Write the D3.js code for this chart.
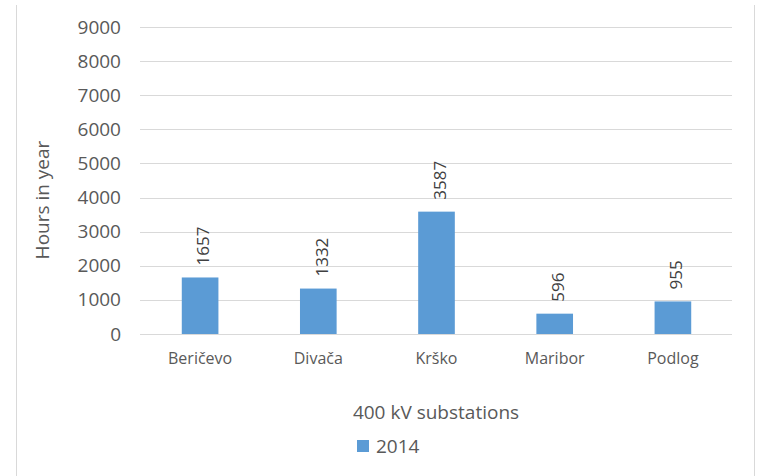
<!DOCTYPE html>
<html>
<head>
<meta charset="utf-8">
<script src="https://cdn.jsdelivr.net/npm/d3@7"></script>
<style>
  html, body { margin: 0; padding: 0; background: #ffffff; }
  svg { display: block; font-family: "Open Sans", sans-serif; }
</style>
</head>
<body>
<svg id="chart" width="762" height="476"></svg>
<script>
const categories = ["Beričevo", "Divača", "Krško", "Maribor", "Podlog"];
const values2014 = [1657, 1332, 3587, 596, 955];
const yTicks = [0, 1000, 2000, 3000, 4000, 5000, 6000, 7000, 8000, 9000];
const seriesName = "2014";
const xTitle = "400 kV substations";
const yTitle = "Hours in year";

const svg = d3.select("#chart");
const W = 762, H = 476;
const plot = { left: 141, right: 732, top: 27, bottom: 334 };
const textColor = "#595959";
const gridColor = "#d9d9d9";
const barColor = "#5b9bd5";

svg.append("rect").attr("width", W).attr("height", H).attr("fill", "#fff");

// frame side lines
svg.append("line").attr("x1", 16.5).attr("x2", 16.5).attr("y1", 5).attr("y2", H)
  .attr("stroke", gridColor).attr("stroke-width", 1);
svg.append("line").attr("x1", 754.5).attr("x2", 754.5).attr("y1", 5).attr("y2", H)
  .attr("stroke", gridColor).attr("stroke-width", 1);

const x = d3.scaleBand().domain(categories).range([plot.left, plot.right]).padding(0);
const y = d3.scaleLinear().domain([0, 9000]).range([plot.bottom, plot.top]);

// gridlines
svg.append("g").selectAll("line").data(yTicks).join("line")
  .attr("x1", plot.left - 1).attr("x2", plot.right)
  .attr("y1", d => Math.round(y(d)) + 0.5).attr("y2", d => Math.round(y(d)) + 0.5)
  .attr("stroke", gridColor).attr("stroke-width", 1);

// y axis labels
const yAxis = d3.axisLeft(y).tickValues(yTicks).tickSize(0).tickPadding(0).tickFormat(d3.format("d"));
const gy = svg.append("g").attr("transform", `translate(${plot.left - 20},0)`).call(yAxis);
gy.select(".domain").remove();
gy.selectAll("text").attr("fill", textColor).style("font-size", "19px")
  .style("font-family", "'Open Sans', sans-serif");

// x axis labels
const xAxis = d3.axisBottom(x).tickSize(0).tickPadding(0);
const gx = svg.append("g").attr("transform", `translate(0,${plot.bottom + 19})`).call(xAxis);
gx.select(".domain").remove();
gx.selectAll("text").attr("fill", textColor).style("font-size", "16px")
  .style("font-family", "'Open Sans', sans-serif");

// bars
const barW = x.bandwidth() * 0.31;
svg.append("g").selectAll("rect").data(values2014).join("rect")
  .attr("x", (d, i) => x(categories[i]) + x.bandwidth() / 2 - barW / 2)
  .attr("width", barW)
  .attr("y", d => y(d))
  .attr("height", d => y(0) - y(d))
  .attr("fill", barColor);

// value labels (rotated)
svg.append("g").selectAll("text").data(values2014).join("text")
  .attr("transform", (d, i) => `translate(${x(categories[i]) + x.bandwidth() / 2},${y(d) - 12}) rotate(-90)`)
  .attr("dy", "0.55em")
  .attr("text-anchor", "start")
  .attr("fill", "#404040")
  .style("font-size", "17px")
  .text(d => d);

// axis titles
svg.append("text")
  .attr("transform", `translate(49,200) rotate(-90)`)
  .attr("text-anchor", "middle")
  .attr("fill", textColor)
  .style("font-size", "19px")
  .text(yTitle);

svg.append("text")
  .attr("x", 436).attr("y", 419)
  .attr("text-anchor", "middle")
  .attr("fill", textColor)
  .style("font-size", "19px")
  .text(xTitle);

// legend
const lg = svg.append("g").attr("transform", "translate(357,440)");
lg.append("rect").attr("width", 12).attr("height", 12).attr("fill", barColor);
lg.append("text").attr("x", 19).attr("y", 13).attr("fill", textColor)
  .style("font-size", "19px").text(seriesName);
</script>
</body>
</html>
